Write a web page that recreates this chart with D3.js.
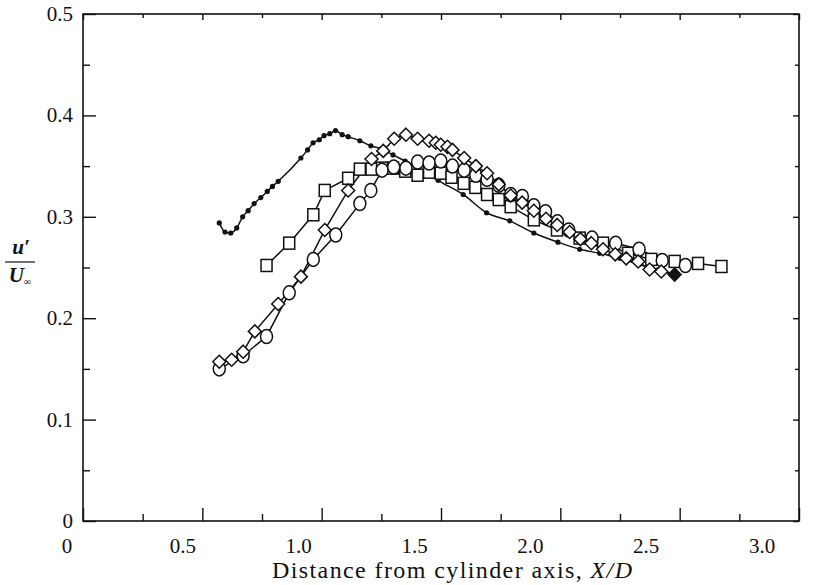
<!DOCTYPE html>
<html>
<head>
<meta charset="utf-8">
<script src="https://cdn.jsdelivr.net/npm/d3@7"></script>
<style>
  body { margin: 0; background: #fff; }
  text { font-family: "Liberation Serif", "Times New Roman", serif; fill: #111; }
</style>
</head>
<body>
<div id="my_dataviz"></div>
<script>
// data (X/D, u'/U)
var dotsX = [0.571, 0.595, 0.619, 0.644, 0.669, 0.692, 0.717, 0.745, 0.772, 0.794, 0.818, 0.913, 0.941, 0.964, 0.990, 1.010, 1.034, 1.058, 1.086, 1.111, 1.160, 1.206, 1.251, 1.299, 1.35, 1.40, 1.45, 1.488, 1.593, 1.691, 1.788, 1.889, 1.990, 2.081, 2.165, 2.25, 2.33, 2.41, 2.479];
var dotsY = [0.294, 0.285, 0.284, 0.289, 0.300, 0.306, 0.313, 0.319, 0.325, 0.330, 0.335, 0.358, 0.366, 0.373, 0.376, 0.380, 0.382, 0.385, 0.381, 0.379, 0.375, 0.370, 0.367, 0.361, 0.355, 0.349, 0.342, 0.336, 0.322, 0.304, 0.296, 0.284, 0.275, 0.268, 0.264, 0.259, 0.253, 0.248, 0.243];

var squareX = [0.769, 0.864, 0.965, 1.013, 1.111, 1.160, 1.209, 1.253, 1.299, 1.35, 1.402, 1.45, 1.499, 1.544, 1.595, 1.644, 1.693, 1.742, 1.792, 1.889, 1.986, 2.081, 2.179, 2.284, 2.381, 2.479, 2.577, 2.675];
var squareY = [0.252, 0.274, 0.302, 0.326, 0.338, 0.347, 0.347, 0.348, 0.348, 0.345, 0.341, 0.344, 0.343, 0.339, 0.333, 0.329, 0.322, 0.317, 0.310, 0.297, 0.287, 0.279, 0.274, 0.264, 0.258, 0.256, 0.254, 0.251];

var diamondX = [0.571, 0.623, 0.671, 0.720, 0.818, 0.913, 1.013, 1.111, 1.209, 1.258, 1.304, 1.353, 1.402, 1.450, 1.478, 1.499, 1.527, 1.548, 1.597, 1.646, 1.693, 1.742, 1.792, 1.84, 1.889, 1.94, 1.987, 2.039, 2.084, 2.130, 2.179, 2.23, 2.276, 2.326, 2.374, 2.423, 2.479];
var diamondY = [0.157, 0.159, 0.167, 0.187, 0.214, 0.241, 0.287, 0.326, 0.357, 0.365, 0.377, 0.381, 0.377, 0.375, 0.373, 0.371, 0.369, 0.366, 0.358, 0.350, 0.343, 0.332, 0.321, 0.314, 0.306, 0.298, 0.292, 0.285, 0.278, 0.274, 0.268, 0.263, 0.259, 0.256, 0.248, 0.246, 0.243];

var circleX = [0.571, 0.671, 0.769, 0.864, 0.965, 1.059, 1.160, 1.206, 1.253, 1.302, 1.353, 1.402, 1.450, 1.499, 1.548, 1.597, 1.646, 1.693, 1.742, 1.792, 1.841, 1.889, 1.938, 1.988, 2.035, 2.133, 2.232, 2.330, 2.427, 2.524];
var circleY = [0.150, 0.163, 0.182, 0.225, 0.258, 0.282, 0.313, 0.326, 0.346, 0.349, 0.348, 0.354, 0.353, 0.355, 0.350, 0.346, 0.341, 0.337, 0.331, 0.322, 0.320, 0.311, 0.305, 0.295, 0.287, 0.279, 0.274, 0.268, 0.257, 0.252];

var xTickLabels = ["0", "0.5", "1.0", "1.5", "2.0", "2.5", "3.0"];
var yTickLabels = ["0", "0.1", "0.2", "0.3", "0.4", "0.5"];

function zip(xs, ys) {
    return xs.map(function(x, i) { return { x: x, y: ys[i] }; });
}

var margin = { top: 14, right: 19, bottom: 64, left: 83 },
    W = 818, H = 585,
    width = W - margin.left - margin.right,
    height = H - margin.top - margin.bottom;

var svg = d3.select("#my_dataviz")
    .append("svg")
    .attr("width", W)
    .attr("height", H);

var g = svg.append("g")
    .attr("transform", "translate(" + margin.left + "," + margin.top + ")");

var x = d3.scaleLinear().domain([0, 3]).range([0, width]);
var y = d3.scaleLinear().domain([0, 0.5]).range([height, 0]);
// tick labels in the scan sit a little off the ticks
var xLab = d3.scaleLinear().domain([0, 3]).range([67 - margin.left, 762 - margin.left]);

// frame
g.append("rect")
    .attr("width", width)
    .attr("height", height)
    .attr("fill", "none")
    .attr("stroke", "#111")
    .attr("stroke-width", 1.6);

// inward ticks on all four sides
function ticks(axis, values, len, transform) {
    g.append("g")
        .attr("transform", transform)
        .call(axis.tickValues(values).tickSize(len).tickFormat(""))
        .call(function(s) { s.select(".domain").remove(); })
        .selectAll("line").attr("stroke", "#111").attr("stroke-width", 1.4);
}
var xMaj = d3.range(0, 3.01, 0.5), xMin = d3.range(0.25, 3, 0.5);
var yMaj = d3.range(0, 0.51, 0.1), yMin = d3.range(0.05, 0.5, 0.1);
ticks(d3.axisTop(x), xMaj, 13, "translate(0," + height + ")");
ticks(d3.axisTop(x), xMin, 7, "translate(0," + height + ")");
ticks(d3.axisBottom(x), xMaj, 6, "translate(0,0)");
ticks(d3.axisBottom(x), xMin, 4, "translate(0,0)");
ticks(d3.axisRight(y), yMaj, 13, "translate(0,0)");
ticks(d3.axisRight(y), yMin, 7, "translate(0,0)");
ticks(d3.axisLeft(y), yMaj, 6, "translate(" + width + ",0)");
ticks(d3.axisLeft(y), yMin, 4, "translate(" + width + ",0)");

// tick labels
g.selectAll(".xlab")
    .data(xTickLabels)
    .enter()
    .append("text")
    .attr("x", function(d) { return xLab(+d); })
    .attr("y", height + 32)
    .attr("text-anchor", "middle")
    .style("font-size", "21px")
    .text(function(d) { return d; });

g.selectAll(".ylab")
    .data(yTickLabels)
    .enter()
    .append("text")
    .attr("x", -10)
    .attr("y", function(d) { return y(+d) + 7; })
    .attr("text-anchor", "end")
    .style("font-size", "21px")
    .text(function(d) { return d; });

// axis titles
var xt = svg.append("text")
    .attr("x", 452)
    .attr("y", 578)
    .attr("text-anchor", "middle")
    .attr("textLength", 360)
    .attr("lengthAdjust", "spacing")
    .style("font-size", "24px");
xt.append("tspan").text("Distance from cylinder axis, ");
xt.append("tspan").style("font-style", "italic").text("X/D");

svg.append("text")
    .attr("x", 21).attr("y", 254)
    .attr("text-anchor", "middle")
    .style("font-size", "21px").style("font-weight", "bold").style("font-style", "italic")
    .text("u\u2032");
svg.append("line")
    .attr("x1", 5).attr("x2", 35).attr("y1", 262).attr("y2", 262)
    .attr("stroke", "#111").attr("stroke-width", 1.2);
var ut = svg.append("text")
    .attr("x", 20).attr("y", 282)
    .attr("text-anchor", "middle")
    .style("font-size", "21px").style("font-weight", "bold").style("font-style", "italic");
ut.append("tspan").text("U");
ut.append("tspan").attr("dy", 3).style("font-size", "10px").style("font-weight", "normal").text("\u221e");

// lines
var line = d3.line()
    .x(function(d) { return x(d.x); })
    .y(function(d) { return y(d.y); });

var series = [zip(dotsX, dotsY), zip(squareX, squareY), zip(diamondX, diamondY), zip(circleX, circleY)];
g.selectAll("myLines")
    .data(series)
    .enter()
    .append("path")
    .attr("d", function(d, i) { return line.curve(i == 0 ? d3.curveMonotoneX : d3.curveLinear)(d); })
    .attr("fill", "none")
    .attr("stroke", "#111")
    .attr("stroke-width", 1.5);

// filled dots
g.selectAll("myDots")
    .data(series[0])
    .enter()
    .append("circle")
    .attr("cx", function(d) { return x(d.x); })
    .attr("cy", function(d) { return y(d.y); })
    .attr("r", 2.6)
    .attr("fill", "#111");

// open squares
g.selectAll("mySquares")
    .data(series[1])
    .enter()
    .append("rect")
    .attr("x", function(d) { return x(d.x) - 5.5; })
    .attr("y", function(d) { return y(d.y) - 6; })
    .attr("width", 11)
    .attr("height", 12)
    .attr("fill", "#fff")
    .attr("stroke", "#111")
    .attr("stroke-width", 1.5);

// open circles
g.selectAll("myCircles")
    .data(series[3])
    .enter()
    .append("ellipse")
    .attr("cx", function(d) { return x(d.x); })
    .attr("cy", function(d) { return y(d.y); })
    .attr("rx", 6)
    .attr("ry", 7)
    .attr("fill", "#fff")
    .attr("stroke", "#111")
    .attr("stroke-width", 1.5);

// open diamonds
g.selectAll("myDiamonds")
    .data(series[2])
    .enter()
    .append("path")
    .attr("d", function(d) {
        var cx = x(d.x), cy = y(d.y), r = 6.5;
        return "M" + cx + "," + (cy - r) + "L" + (cx + r) + "," + cy + "L" + cx + "," + (cy + r) + "L" + (cx - r) + "," + cy + "Z";
    })
    .attr("fill", function(d, i) { return i == series[2].length - 1 ? "#111" : "#fff"; })
    .attr("stroke", "#111")
    .attr("stroke-width", 1.5);
</script>
</body>
</html>
